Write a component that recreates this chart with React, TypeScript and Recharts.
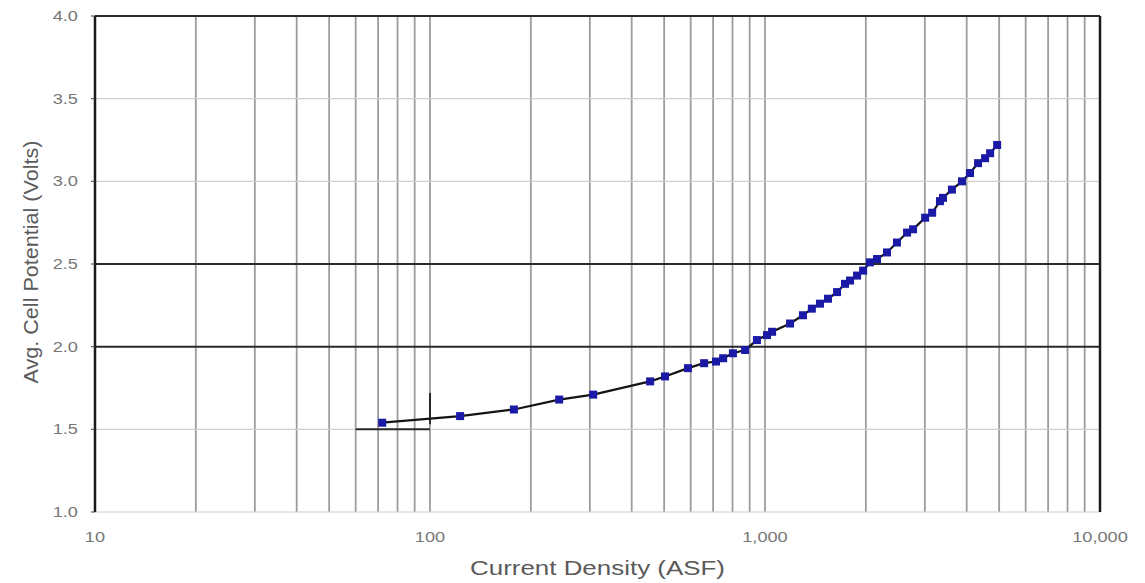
import React from "react";
import { LineChart, Line, XAxis, YAxis, ReferenceLine, Label } from "recharts";

// Cell potential vs. current density
const currentDensity = [
  72, 123, 178, 243, 307, 454, 503, 589, 658, 714, 750, 802, 872, 946, 1014,
  1050, 1188, 1298, 1380, 1459, 1542, 1641, 1733, 1794, 1883, 1963, 2057, 2160,
  2313, 2477, 2655, 2767, 3006, 3155, 3329, 3398, 3614, 3873, 4092, 4325, 4539,
  4699, 4932,
];
const cellPotential = [
  1.54, 1.58, 1.62, 1.68, 1.71, 1.79, 1.82, 1.87, 1.9, 1.91, 1.93, 1.96, 1.98,
  2.04, 2.07, 2.09, 2.14, 2.19, 2.23, 2.26, 2.29, 2.33, 2.38, 2.4, 2.43, 2.46,
  2.51, 2.53, 2.57, 2.63, 2.69, 2.71, 2.78, 2.81, 2.88, 2.9, 2.95, 3.0, 3.05,
  3.11, 3.14, 3.17, 3.22,
];

const xTicks = [10, 100, 1000, 10000];
const yTicks = [1.0, 1.5, 2.0, 2.5, 3.0, 3.5, 4.0];
const xMinorGrid = [
  20, 30, 40, 50, 60, 70, 80, 90, 100, 200, 300, 400, 500, 600, 700, 800, 900,
  1000, 2000, 3000, 4000, 5000, 6000, 7000, 8000, 9000,
];
const yDarkGrid = [2.0, 2.5, 4.0];
const yLightGrid = [1.0, 1.5, 3.0, 3.5];

const data = currentDensity.map((x, i) => ({ x, v: cellPotential[i] }));

const TICK_FONT = 14;
const STRETCH = 1.3;
const textFont = "'Liberation Sans', Arial, sans-serif";

// the picture is stretched sideways, so labels get a matching textLength
function labelWidth(s: string) {
  let em = 0;
  for (const ch of s) em += /[0-9]/.test(ch) ? 0.556 : 0.278;
  return em * TICK_FONT * STRETCH;
}

const fmtX = (v: number) => v.toLocaleString("en-US");

function XTick(props: any) {
  const { x, y, payload } = props;
  const s = fmtX(payload.value);
  return (
    <text
      x={x}
      y={y}
      textAnchor="middle"
      fontSize={TICK_FONT}
      fontFamily={textFont}
      fill="#777"
      textLength={labelWidth(s)}
      lengthAdjust="spacingAndGlyphs"
    >
      {s}
    </text>
  );
}

function YTick(props: any) {
  const { x, y, payload } = props;
  const s = Number(payload.value).toFixed(1);
  return (
    <text
      x={x}
      y={y + 5}
      textAnchor="end"
      fontSize={TICK_FONT}
      fontFamily={textFont}
      fill="#777"
      textLength={labelWidth(s)}
      lengthAdjust="spacingAndGlyphs"
    >
      {s}
    </text>
  );
}

function XTitle(props: any) {
  const vb = props.viewBox;
  return (
    <text
      x={vb.x + vb.width / 2}
      y={vb.y + vb.height - 3}
      textAnchor="middle"
      fontSize={20}
      fontFamily={textFont}
      fill="#5a5a5a"
      textLength={255}
      lengthAdjust="spacingAndGlyphs"
    >
      Current Density (ASF)
    </text>
  );
}

function YTitle(props: any) {
  const vb = props.viewBox;
  const cx = vb.x + 3;
  const cy = vb.y + vb.height / 2 - 2;
  return (
    <text
      x={cx}
      y={cy}
      transform={`rotate(-90, ${cx}, ${cy})`}
      textAnchor="middle"
      fontSize={20}
      fontFamily={textFont}
      fill="#5a5a5a"
      textLength={243}
      lengthAdjust="spacingAndGlyphs"
    >
      Avg. Cell Potential (Volts)
    </text>
  );
}

function SquareDot(props: any) {
  const { cx, cy, index } = props;
  if (cx == null || cy == null) return <g key={index} />;
  return <rect key={index} x={cx - 4} y={cy - 4} width={8} height={8} fill="#1a1aa6" />;
}

export default function App() {
  return (
    <div style={{ position: "absolute", left: 0, top: 0, background: "#fff" }}>
      <LineChart
        width={1145}
        height={583}
        data={data}
        margin={{ top: 16, right: 45, left: 35, bottom: 5 }}
      >
        <XAxis
          dataKey="x"
          type="number"
          scale="log"
          domain={[10, 10000]}
          ticks={xTicks}
          allowDataOverflow
          axisLine={false}
          tickLine={false}
          tickSize={6}
          tickMargin={24}
          height={66}
          tick={XTick}
          interval={0}
        >
          <Label content={XTitle} />
        </XAxis>
        <YAxis
          type="number"
          domain={[1, 4]}
          ticks={yTicks}
          allowDataOverflow
          width={60}
          axisLine={false}
          tickLine={{ stroke: "#444" }}
          tickSize={4}
          tickMargin={13}
          tick={YTick}
          interval={0}
        >
          <Label content={YTitle} />
        </YAxis>

        {xMinorGrid.map((v) => (
          <ReferenceLine key={`vx${v}`} x={v} stroke="#9c9c9c" strokeWidth={1.8} />
        ))}
        {yLightGrid.map((v) => (
          <ReferenceLine key={`ly${v}`} y={v} stroke="#d4cccc" strokeWidth={1.2} />
        ))}
        {yDarkGrid.map((v) => (
          <ReferenceLine key={`dy${v}`} y={v} stroke="#2a2a2a" strokeWidth={2} />
        ))}
        <ReferenceLine
          segment={[
            { x: 60, y: 1.5 },
            { x: 100, y: 1.5 },
          ]}
          stroke="#2a2a2a"
          strokeWidth={2}
        />
        <ReferenceLine
          segment={[
            { x: 100, y: 1.53 },
            { x: 100, y: 1.72 },
          ]}
          stroke="#2a2a2a"
          strokeWidth={2}
        />
        <ReferenceLine x={10} stroke="#1a1a1a" strokeWidth={2.5} />
        <ReferenceLine x={10000} stroke="#1a1a1a" strokeWidth={2.5} />

        <Line
          type="linear"
          dataKey="v"
          stroke="#141414"
          strokeWidth={2.2}
          dot={SquareDot}
          activeDot={false}
          isAnimationActive={false}
        />
      </LineChart>
    </div>
  );
}
